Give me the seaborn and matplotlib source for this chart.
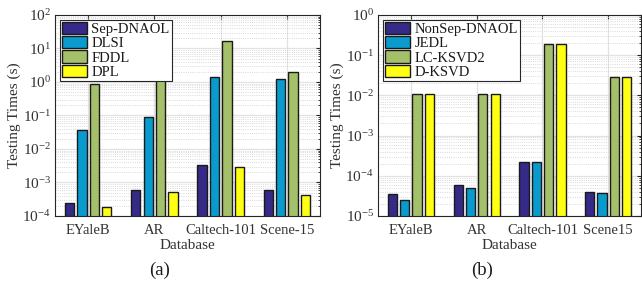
import matplotlib
matplotlib.use("Agg")
import matplotlib.pyplot as plt
import matplotlib.ticker as mticker
import pandas as pd
import seaborn as sns

databases = ["EYaleB", "AR", "Caltech-101", "Scene-15"]
databases_b = ["EYaleB", "AR", "Caltech-101", "Scene15"]

# panel (a)
methods_a = ["Sep-DNAOL", "DLSI", "FDDL", "DPL"]
sep_dnaol = [2.5e-4, 6.0e-4, 3.4e-3, 5.8e-4]
dlsi = [0.037, 0.092, 1.4, 1.27]
fddl = [0.86, 1.25, 16.5, 2.0]
dpl = [1.9e-4, 5.2e-4, 2.9e-3, 4.3e-4]

# panel (b)
methods_b = ["NonSep-DNAOL", "JEDL", "LC-KSVD2", "D-KSVD"]
nonsep_dnaol = [3.5e-5, 5.8e-5, 2.25e-4, 4.0e-5]
jedl = [2.5e-5, 5.1e-5, 2.15e-4, 3.7e-5]
lcksvd2 = [0.0108, 0.0107, 0.195, 0.0295]
dksvd = [0.0108, 0.0107, 0.195, 0.0295]

colors = ["#352A87", "#0A9BCE", "#A4C06A", "#FFFF14"]

sns.set_style("white")
plt.rcParams["font.family"] = ["Liberation Serif", "DejaVu Serif"]
plt.rcParams["mathtext.fontset"] = "custom"
plt.rcParams["mathtext.rm"] = "Liberation Serif"
plt.rcParams["mathtext.it"] = "Liberation Serif:italic"
plt.rcParams["font.size"] = 10.5
txt = "#333333"


def make_df(dbs, methods, series):
    rows = []
    for m, vals in zip(methods, series):
        for d, v in zip(dbs, vals):
            rows.append({"Database": d, "Method": m, "Time": v})
    return pd.DataFrame(rows)


df_a = make_df(databases, methods_a, [sep_dnaol, dlsi, fddl, dpl])
df_b = make_df(databases_b, methods_b, [nonsep_dnaol, jedl, lcksvd2, dksvd])

fig = plt.figure(figsize=(6.42, 2.85), dpi=100)
ax_a = fig.add_axes([0.0857, 0.2421, 0.4128, 0.7053])
ax_b = fig.add_axes([0.5888, 0.2421, 0.4097, 0.7053])


def draw(ax, df, methods, ylim):
    ax.set_yscale("log")
    sns.barplot(data=df, x="Database", y="Time", hue="Method", hue_order=methods,
                palette=colors, width=0.75, gap=0.25, edgecolor="#1a1a1a",
                linewidth=1.0, saturation=1, ax=ax, legend=True)
    ax.set_ylim(*ylim)
    ax.set_xlim(-0.5, 3.5)
    ax.set_axisbelow(True)
    ax.yaxis.set_major_locator(mticker.LogLocator(base=10, numticks=10))
    ax.yaxis.set_minor_locator(mticker.LogLocator(base=10, subs=range(2, 10), numticks=10))
    ax.yaxis.set_major_formatter(mticker.LogFormatterSciNotation())
    ax.yaxis.set_minor_formatter(mticker.NullFormatter())
    ax.grid(True, which="major", color="#e2e2e2", lw=0.9)
    ax.grid(True, which="minor", axis="y", color="#cccccc", lw=0.6, ls=":")
    ax.tick_params(which="both", direction="in", top=True, right=True,
                   colors="#262626", labelcolor=txt)
    ax.tick_params(axis="x", labelsize=10.5)
    ax.tick_params(axis="y", labelsize=11)
    ax.tick_params(which="major", length=3)
    ax.tick_params(which="minor", length=1.5)
    ax.tick_params(axis="x", which="major", pad=6)
    ax.tick_params(axis="y", which="major", pad=3)
    ax.tick_params(axis="x", which="minor", top=False, bottom=False)
    for s in ax.spines.values():
        s.set_color("#262626")
        s.set_linewidth(0.8)
    ax.set_xlabel("Database", color=txt, fontsize=11, labelpad=1)
    ax.set_ylabel("Testing Times (s)", color=txt, fontsize=11, labelpad=1)
    leg = ax.legend(loc="upper left", bbox_to_anchor=(0.0, 1.0), fancybox=False,
                    framealpha=1, edgecolor="#262626", fontsize=10.5,
                    handlelength=1.7, handleheight=0.9, handletextpad=0.3,
                    labelspacing=0.0, borderpad=0.15, borderaxespad=0.35)
    leg.get_frame().set_linewidth(0.8)
    for t in leg.get_texts():
        t.set_color("#1a1a1a")


draw(ax_a, df_a, methods_a, (1e-4, 1e2))
draw(ax_b, df_b, methods_b, (1e-5, 1e0))

fig.text(0.249, 0.035, "(a)", ha="center", fontsize=13.5, color="#1a1a1a")
fig.text(0.751, 0.035, "(b)", ha="center", fontsize=13.5, color="#1a1a1a")

fig.savefig("out.png", dpi=100)
